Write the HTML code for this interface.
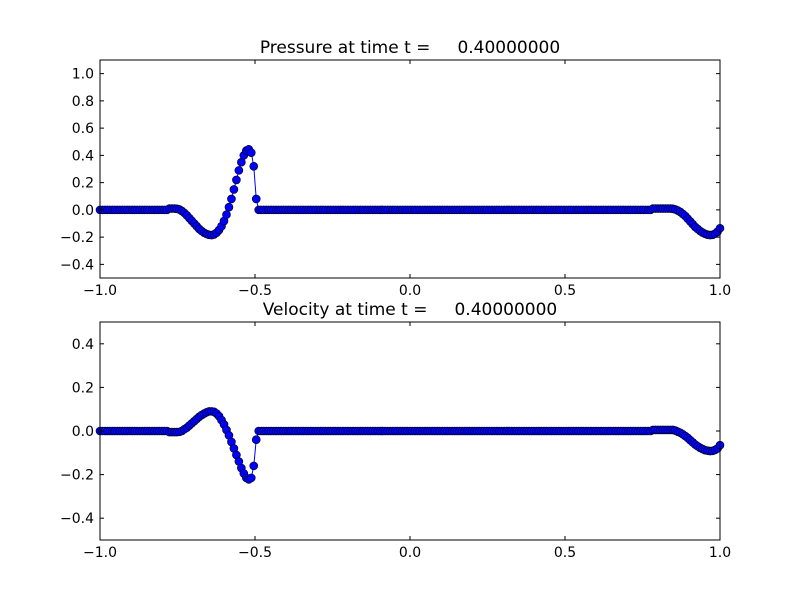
<!DOCTYPE html>
<html><head><meta charset="utf-8"><style>
html,body{margin:0;padding:0;background:#fff;}
svg{display:block;font-family:"DejaVu Sans","Liberation Sans",sans-serif;}
.ttl{white-space:pre;}
</style></head><body>
<svg id="chart" width="800" height="600">
<rect width="800" height="600" fill="#fff"/>
</svg>
<script>
const xTicks=[-1.0,-0.5,0.0,0.5,1.0];
const xTickLabels=["\u22121.0","\u22120.5","0.0","0.5","1.0"];
const pTicks=[-0.4,-0.2,0.0,0.2,0.4,0.6,0.8,1.0];
const pTickLabels=["\u22120.4","\u22120.2","0.0","0.2","0.4","0.6","0.8","1.0"];
const vTicks=[-0.4,-0.2,0.0,0.2,0.4];
const vTickLabels=["\u22120.4","\u22120.2","0.0","0.2","0.4"];
const pressureLeft=[0.01,0.01,0.01,0.008,0.003,-0.008,-0.022,-0.04,-0.06,-0.08,-0.10,-0.12,-0.14,-0.155,-0.168,-0.177,-0.183,-0.185,-0.18,-0.168,-0.148,-0.12,-0.082,-0.035,0.02,0.08,0.15,0.22,0.29,0.35,0.40,0.435,0.445,0.42,0.32,0.08,0];
const pressureRight=[0.01,0.01,0.01,0.01,0.01,0.01,0.01,0.01,0.008,0.003,-0.005,-0.015,-0.03,-0.045,-0.065,-0.085,-0.105,-0.125,-0.14,-0.155,-0.167,-0.176,-0.182,-0.185,-0.183,-0.175,-0.16,-0.135];
const velocityLeft=[-0.005,-0.005,-0.005,-0.005,-0.004,0,0.008,0.015,0.025,0.035,0.045,0.055,0.065,0.073,0.08,0.086,0.09,0.09,0.088,0.08,0.068,0.05,0.03,0.005,-0.02,-0.05,-0.08,-0.11,-0.14,-0.17,-0.195,-0.215,-0.222,-0.215,-0.16,-0.04,0];
const velocityRight=[0.005,0.005,0.005,0.005,0.005,0.005,0.005,0.005,0.005,0.002,-0.003,-0.008,-0.015,-0.023,-0.032,-0.042,-0.052,-0.062,-0.07,-0.077,-0.083,-0.088,-0.09,-0.092,-0.091,-0.087,-0.08,-0.065];
const pressure=[...Array(28).fill(0),...pressureLeft,...Array(158).fill(0),...pressureRight];
const velocity=[...Array(28).fill(0),...velocityLeft,...Array(158).fill(0),...velocityRight];
const xs=pressure.map((_,i)=>-1+i*0.008);

const NS="http://www.w3.org/2000/svg";
const svg=document.getElementById('chart');
function mk(tag,attrs,parent){const e=document.createElementNS(NS,tag);for(const k in attrs)e.setAttribute(k,attrs[k]);(parent||svg).appendChild(e);return e;}

function panel(name,top,bottom,ymin,ymax,yt,ytl,vals,title){
  const L=100,R=720;
  const sx=x=>L+(x+1)/2*(R-L);
  const sy=y=>bottom-(y-ymin)/(ymax-ymin)*(bottom-top);
  const g=mk('g',{});
  
  
  const t=mk('text',{x:410,y:top-7,'text-anchor':'middle','font-size':17,'class':'ttl'},g);
  t.textContent=title;
  
  
  const line=mk('polyline',{points:vals.map((v,i)=>sx(xs[i])+','+sy(v)).join(' '),fill:'none',stroke:'#0000ff','stroke-width':1},g);
  
  
  vals.forEach((v,i)=>{
    const c=mk('circle',{cx:sx(xs[i]),cy:sy(v),r:4,fill:'#0000ff',stroke:'#000','stroke-width':0.6},g);
    
    
  });
  const fr=mk('rect',{x:L,y:top,width:R-L,height:bottom-top,fill:'none',stroke:'#000','stroke-width':1},g);
  
  
  xTicks.forEach((v,i)=>{
    const x=sx(v);
    mk('line',{x1:x,y1:bottom,x2:x,y2:bottom-4,stroke:'#000'},g);
    mk('line',{x1:x,y1:top,x2:x,y2:top+4,stroke:'#000'},g);
    const tl=mk('text',{x:x,y:bottom+17,'text-anchor':'middle','font-size':14},g);
    tl.textContent=xTickLabels[i];
    
    
  });
  yt.forEach((v,i)=>{
    const y=sy(v);
    mk('line',{x1:L,y1:y,x2:L+4,y2:y,stroke:'#000'},g);
    mk('line',{x1:R,y1:y,x2:R-4,y2:y,stroke:'#000'},g);
    const tl=mk('text',{x:L-6,y:y+5,'text-anchor':'end','font-size':14},g);
    tl.textContent=ytl[i];
    
    
  });
}
panel('pressure',60,278,-0.5,1.1,pTicks,pTickLabels,pressure,'Pressure at time t =     0.40000000');
panel('velocity',322,540,-0.5,0.5,vTicks,vTickLabels,velocity,'Velocity at time t =     0.40000000');
</script>
</body></html>
